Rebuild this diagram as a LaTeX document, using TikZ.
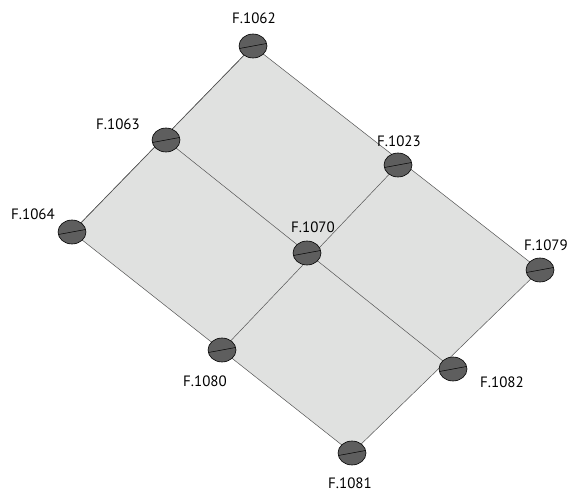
\documentclass[tikz,border=0pt]{standalone}
\usepackage{fontspec}
\setmainfont{PT Sans}
\usetikzlibrary{shapes.geometric}
\definecolor{areagray}{HTML}{E0E1E0}
\definecolor{linegray}{HTML}{555555}
\definecolor{blobgray}{HTML}{5E5E5E}
\tikzset{
  post/.style={ellipse, minimum width=28pt, minimum height=24pt, inner sep=0pt, fill=blobgray, draw=black, line width=0.6pt},
  lbl/.style={font=\fontsize{15}{16}\selectfont, inner sep=0pt},
  edge/.style={draw=linegray, line width=0.5pt}
}
\newcommand{\postmark}[1]{\draw[black, line width=0.5pt] ([shift={(-13.5pt,-2.5pt)}]#1.center) -- ([shift={(13.5pt,2.5pt)}]#1.center);}
\begin{document}
\begin{tikzpicture}[x=1pt,y=-1pt]
\useasboundingbox (0,0) rectangle (574,492);
\coordinate (c62) at (253,46);
\coordinate (c63) at (166,140);
\coordinate (c64) at (72,232);
\coordinate (c23) at (398,165);
\coordinate (c70) at (307,253);
\coordinate (c80) at (222,350);
\coordinate (c79) at (540,270);
\coordinate (c82) at (453,369);
\coordinate (c81) at (352,453);
\fill[areagray] (c62) -- (c79) -- (c81) -- (c64) -- cycle;
\draw[edge] (c62) -- (c79) -- (c81) -- (c64) -- cycle;
\draw[edge] (c63) -- (c82);
\draw[edge] (c62) -- (c64);
\draw[edge] (c23) -- (c80);
\foreach \n in {62,63,64,23,70,80,79,82,81}{
  \node[post] (p\n) at (c\n) {};
  \postmark{p\n}
}
\node[lbl] (l62) at (254,18) {F.1062};
\node[lbl] (l63) at (118,124) {F.1063};
\node[lbl] (l64) at (33,214) {F.1064};
\node[lbl] (l23) at (399,141) {F.1023};
\node[lbl] (l70) at (313,227) {F.1070};
\node[lbl] (l80) at (205,381) {F.1080};
\node[lbl] (l79) at (546,245) {F.1079};
\node[lbl] (l82) at (502,382) {F.1082};
\node[lbl] (l81) at (350,483) {F.1081};
\end{tikzpicture}
\end{document}
